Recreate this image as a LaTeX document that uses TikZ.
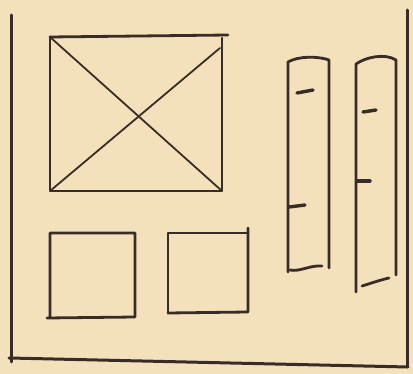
\documentclass[tikz,border=0pt]{standalone}
\usepackage{tikz}
\definecolor{paperTan}{HTML}{F5E0BC}
\definecolor{inkBrown}{HTML}{382D26}

\begin{document}
\begin{tikzpicture}[x=1pt,y=-1pt,
    frameline/.style={draw=inkBrown,line width=3pt,line cap=round},
    boxline/.style={draw=inkBrown,line width=2.8pt,line cap=round,line join=round},
    crossline/.style={draw=inkBrown,line width=1.8pt,line cap=round},
    tick/.style={draw=inkBrown,line width=3.4pt,line cap=round}]
  \fill[paperTan] (0,0) rectangle (413,374);
  \useasboundingbox (0,0) rectangle (413,374);
  % outer frame (open at the top)
  \draw[frameline] (11,15) -- (11,362);
  \draw[frameline] (407,10) -- (407,367);
  \draw[frameline] (9,358) -- (408,367);
  % big square with cross
  \draw[boxline] (50,37) -- (228,35);
  \draw[boxline] (50,37) -- (50,191) -- (222,191) -- (222,38);
  \draw[crossline] (50,37) -- (222,191);
  \draw[crossline] (50,191) -- (220,48);
  % two small squares
  \draw[boxline] (47,318) -- (135,317) -- (135,233) -- (50,233) -- (50,318);
  \draw[boxline] (168,313) -- (168,233) -- (248,233);
  \draw[boxline] (248,228) -- (248,312) -- (168,313);
  % left column
  \draw[boxline] (288,272) -- (288,62) .. controls (298,56) and (318,56) .. (329,60) -- (329,268);
  \draw[boxline] (290,270) .. controls (300,272) and (310,265) .. (322,266);
  \draw[tick] (297,93) -- (313,90);
  \draw[tick] (289,207) -- (305,205);
  % right column
  \draw[boxline] (356,292) -- (356,64) .. controls (366,57) and (385,53) .. (396,60) -- (396,275);
  \draw[boxline] (362,286) .. controls (372,283) and (380,280) .. (389,278);
  \draw[tick] (363,112) -- (376,110);
  \draw[tick] (357,181) -- (370,181);
\end{tikzpicture}
\end{document}
